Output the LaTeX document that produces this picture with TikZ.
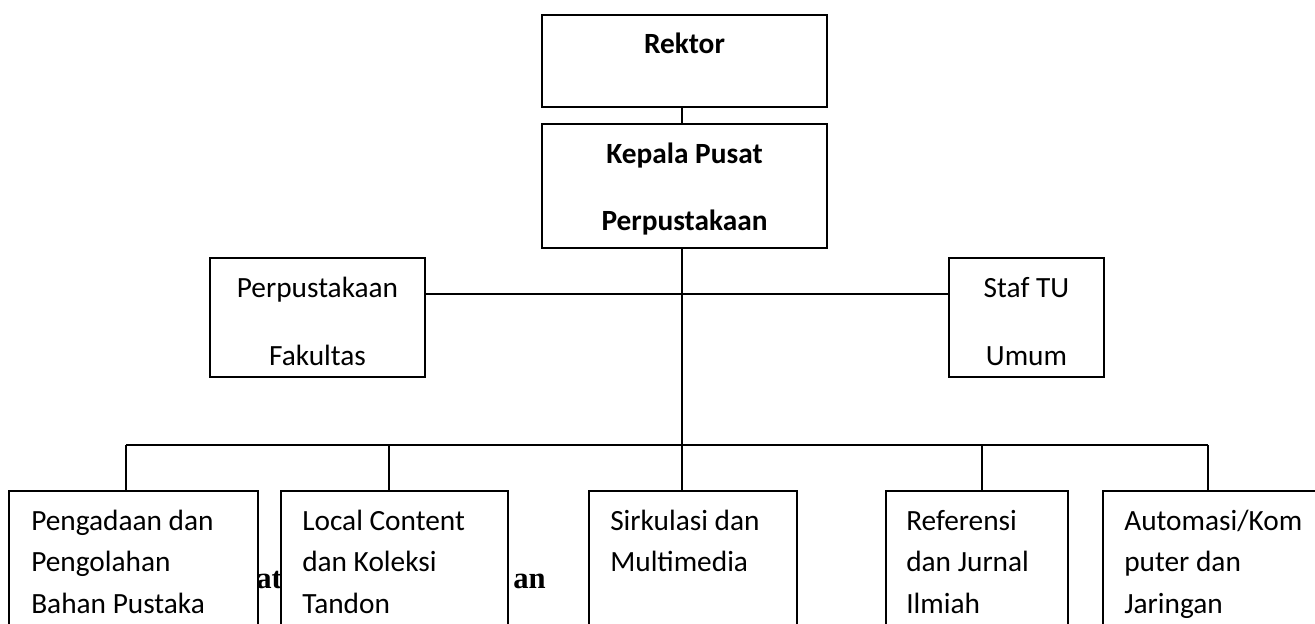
\documentclass[tikz,border=0pt]{standalone}
\usepackage{fontspec}
\setmainfont{Carlito}
\newfontfamily\capfont{Liberation Serif}
\begin{document}
\begin{tikzpicture}[x=0.75pt,y=-0.75pt,
  box/.style={draw, line width=1.4pt, fill=white, inner sep=0pt, rectangle},
  sized/.style 2 args={minimum width=#1*0.75pt, minimum height=#2*0.75pt},
  lbl/.style={anchor=base, inner sep=0pt, font=\fontsize{22}{26}\selectfont},
  blbl/.style={anchor=base, inner sep=0pt, font=\fontsize{22}{26}\selectfont\bfseries},
  llbl/.style={anchor=base west, inner sep=0pt, font=\fontsize{22}{26}\selectfont},
  conn/.style={line width=1.4pt},
  captxt/.style={inner sep=0pt, font=\fontsize{23}{27}\selectfont\capfont\bfseries}]
\useasboundingbox (0,0) rectangle (1315,624);
\clip (0,0) rectangle (1315,624);
% partly hidden caption fragments
\node[captxt, anchor=base west] (capa) at (256,588) {at};
\node[captxt, anchor=base east] (capb) at (546,588) {an};
% top boxes
\node[box, sized={285}{92}] (rektor) at (684.5,61) {};
\node[box, sized={285}{124}] (kepala) at (684.5,186) {};
\node[box, sized={215}{119}] (fak) at (317.5,317.5) {};
\node[box, sized={155}{119}] (staf) at (1026.5,317.5) {};
% bottom boxes (run past the lower edge)
\node[box, sized={249}{180}] (b1) at (133.5,581) {};
\node[box, sized={227}{180}] (b2) at (394.5,581) {};
\node[box, sized={208}{180}] (b3) at (693,581) {};
\node[box, sized={182}{180}] (b4) at (977,581) {};
\node[box, sized={240}{180}] (b5) at (1223,581) {};
% coordinates of the trunk and bars
\coordinate (trunk) at (682,0);
\coordinate (midbar) at (0,294);
\coordinate (d1) at (126,445);
\coordinate (d2) at (389,445);
\coordinate (d4) at (982,445);
\coordinate (d5) at (1208,445);
% connectors
\draw[conn] (rektor.south -| trunk) -- (kepala.north -| trunk);
\draw[conn] (kepala.south -| trunk) -- (b3.north -| trunk);
\draw[conn] (fak.east |- midbar) -- (staf.west |- midbar);
\draw[conn] (d1) -- (d5);
\draw[conn] (d1) -- (b1.north -| d1);
\draw[conn] (d2) -- (b2.north -| d2);
\draw[conn] (d4) -- (b4.north -| d4);
\draw[conn] (d5) -- (b5.north -| d5);
% texts
\node[blbl] (trektor) at (684.5,54) {Rektor};
\node[blbl] (tkep1) at (684.5,164) {Kepala Pusat};
\node[blbl] (tkep2) at (684.5,231) {Perpustakaan};
\node[lbl] (tfak1) at (317.5,297) {Perpustakaan};
\node[lbl] (tfak2) at (317.5,365) {Fakultas};
\node[lbl] (tstaf1) at (1026.5,297) {Staf TU};
\node[lbl] (tstaf2) at (1026.5,365) {Umum};
\node[llbl] (tb11) at (31,530) {Pengadaan dan};
\node[llbl] (tb12) at (31,571) {Pengolahan};
\node[llbl] (tb13) at (31,613) {Bahan Pustaka};
\node[llbl] (tb21) at (302,530) {Local Content};
\node[llbl] (tb22) at (302,571) {dan Koleksi};
\node[llbl] (tb23) at (302,613) {Tandon};
\node[llbl] (tb31) at (610,530) {Sirkulasi dan};
\node[llbl] (tb32) at (610,571) {Multimedia};
\node[llbl] (tb41) at (906,530) {Referensi};
\node[llbl] (tb42) at (906,571) {dan Jurnal};
\node[llbl] (tb43) at (906,613) {Ilmiah};
\node[llbl] (tb51) at (1124,530) {Automasi/Kom};
\node[llbl] (tb52) at (1124,571) {puter dan};
\node[llbl] (tb53) at (1124,613) {Jaringan};
\end{tikzpicture}
\end{document}
